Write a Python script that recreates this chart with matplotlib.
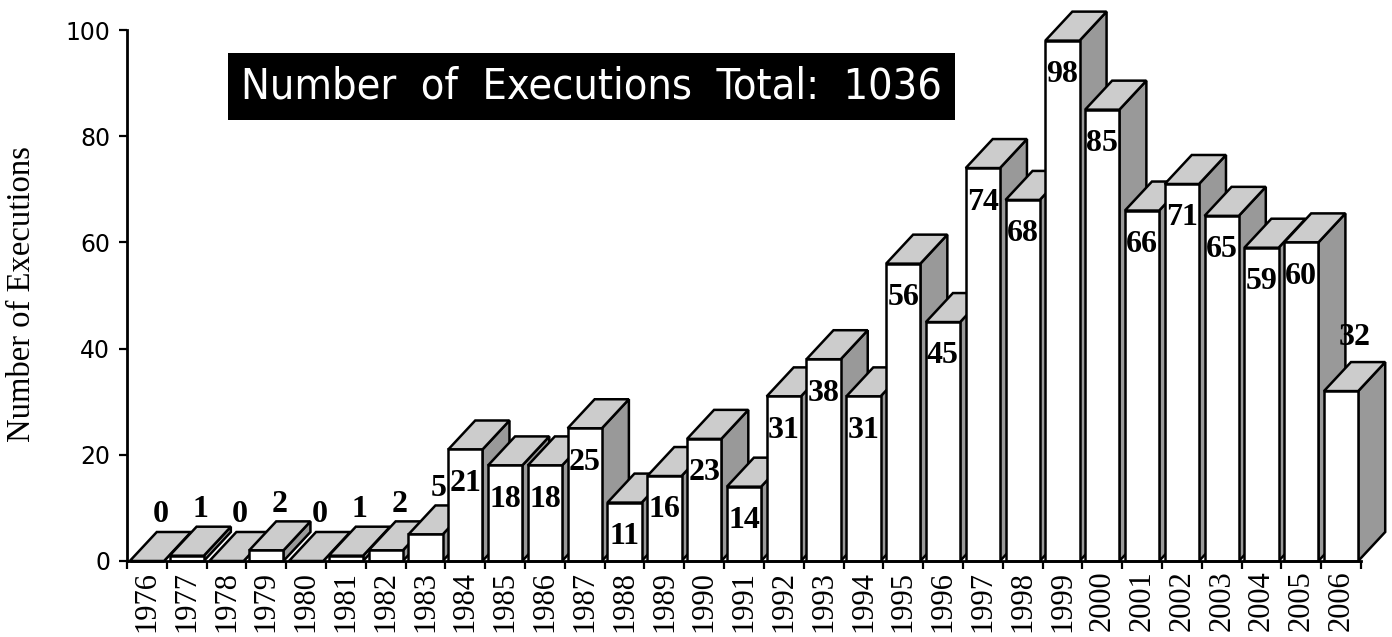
import matplotlib
matplotlib.use("Agg")
import matplotlib.pyplot as plt
from matplotlib.patches import Rectangle, Polygon
from matplotlib import font_manager

years = [str(y) for y in range(1976, 2007)]
executions = [0, 1, 0, 2, 0, 1, 2, 5, 21, 18, 18, 25, 11, 16, 23, 14,
              31, 38, 31, 56, 45, 74, 68, 98, 85, 66, 71, 65, 59, 60, 32]
y_ticks = [0, 20, 40, 60, 80, 100]
title_text = "Number  of  Executions  Total:  1036"
y_label = "Number of Executions"

W, H = 1392, 637
fig = plt.figure(figsize=(W / 100, H / 100), dpi=100)
ax = fig.add_axes([127 / W, (H - 561) / H, (1361 - 127) / W, (561 - 30) / H])
ax.set_xlim(0, len(years))
ax.set_ylim(0, 100)

px_x = (1361 - 127) / len(years)
px_y = (561 - 30) / 100
dx = 27 / px_x
dy = 29 / px_y
off, bw = 0.07, 0.86
lw = 1.8
serif = "Liberation Serif"

for i, v in enumerate(executions):
    x0 = i + off
    x1 = x0 + bw
    side = Polygon([(x1, 0), (x1 + dx, dy), (x1 + dx, v + dy), (x1, v)],
                   closed=True, fc="#999999", ec="black", lw=lw,
                   joinstyle="miter", clip_on=False, zorder=2)
    top = Polygon([(x0, v), (x0 + dx, v + dy), (x1 + dx, v + dy), (x1, v)],
                  closed=True, fc="#cccccc", ec="black", lw=lw,
                  joinstyle="miter", clip_on=False, zorder=2)
    front = Rectangle((x0, 0), bw, v, fc="white", ec="black", lw=lw,
                      joinstyle="miter", clip_on=False, zorder=2)
    ax.add_patch(side)
    ax.add_patch(top)
    ax.add_patch(front)
    if v >= 10 and i != len(executions) - 1:
        ax.annotate(str(v), (x0 + bw / 2, v), xytext=(0, -14), textcoords="offset points",
                    ha="center", va="top", fontsize=23, fontweight="bold",
                    family=serif, zorder=3, annotation_clip=False)
    else:
        extra = 7 if i == len(executions) - 1 else 2
        ax.annotate(str(v), (x0 + bw / 2 + dx / 2, v + dy), xytext=(0, extra),
                    textcoords="offset points", ha="center", va="bottom",
                    fontsize=23, fontweight="bold", family=serif, zorder=3,
                    annotation_clip=False)

# axes styling
for s in ["top", "right"]:
    ax.spines[s].set_visible(False)
for s in ["left", "bottom"]:
    ax.spines[s].set_linewidth(2.0)
    ax.spines[s].set_zorder(4)

ax.set_yticks(y_ticks)
ax.set_yticklabels([str(t) for t in y_ticks], family="DejaVu Sans", fontsize=17)
ax.tick_params(axis="y", direction="out", length=6, width=1.6, pad=6)

ax.set_xticks(range(len(years) + 1))
ax.set_xticklabels([""] * (len(years) + 1))
ax.tick_params(axis="x", which="major", direction="out", length=6, width=1.6)
ax.set_xticks([i + 0.5 for i in range(len(years))], minor=True)
ax.set_xticklabels(years, minor=True, rotation=90, family=serif, fontsize=22)
ax.tick_params(axis="x", which="minor", length=0, pad=7)

fig.text(22 / W, 1 - 294 / H, y_label, rotation=90, ha="center", va="center",
         family=serif, fontsize=23.5)

# title box
names = {f.name for f in font_manager.fontManager.ttflist}
title_kw = dict(family="DejaVu Sans", fontsize=27)
if "Liberation Sans Narrow" in names:
    title_kw = dict(family="Liberation Sans Narrow", fontsize=32)
elif any(f.name == "DejaVu Sans" and f.stretch == "condensed"
         for f in font_manager.fontManager.ttflist):
    title_kw = dict(family="DejaVu Sans", fontstretch="condensed", fontsize=31)

bx0, bx1 = 228, 955
by0, by1 = 53, 120
fig.patches.append(Rectangle((bx0 / W, 1 - by1 / H), (bx1 - bx0) / W, (by1 - by0) / H,
                             transform=fig.transFigure, fc="black", ec="none", zorder=5))
fig.text((bx0 + bx1) / 2 / W, 1 - (by0 + by1) / 2 / H, title_text, color="white",
         ha="center", va="center", zorder=6, **title_kw)

fig.savefig("out.png", dpi=100, facecolor="white")
